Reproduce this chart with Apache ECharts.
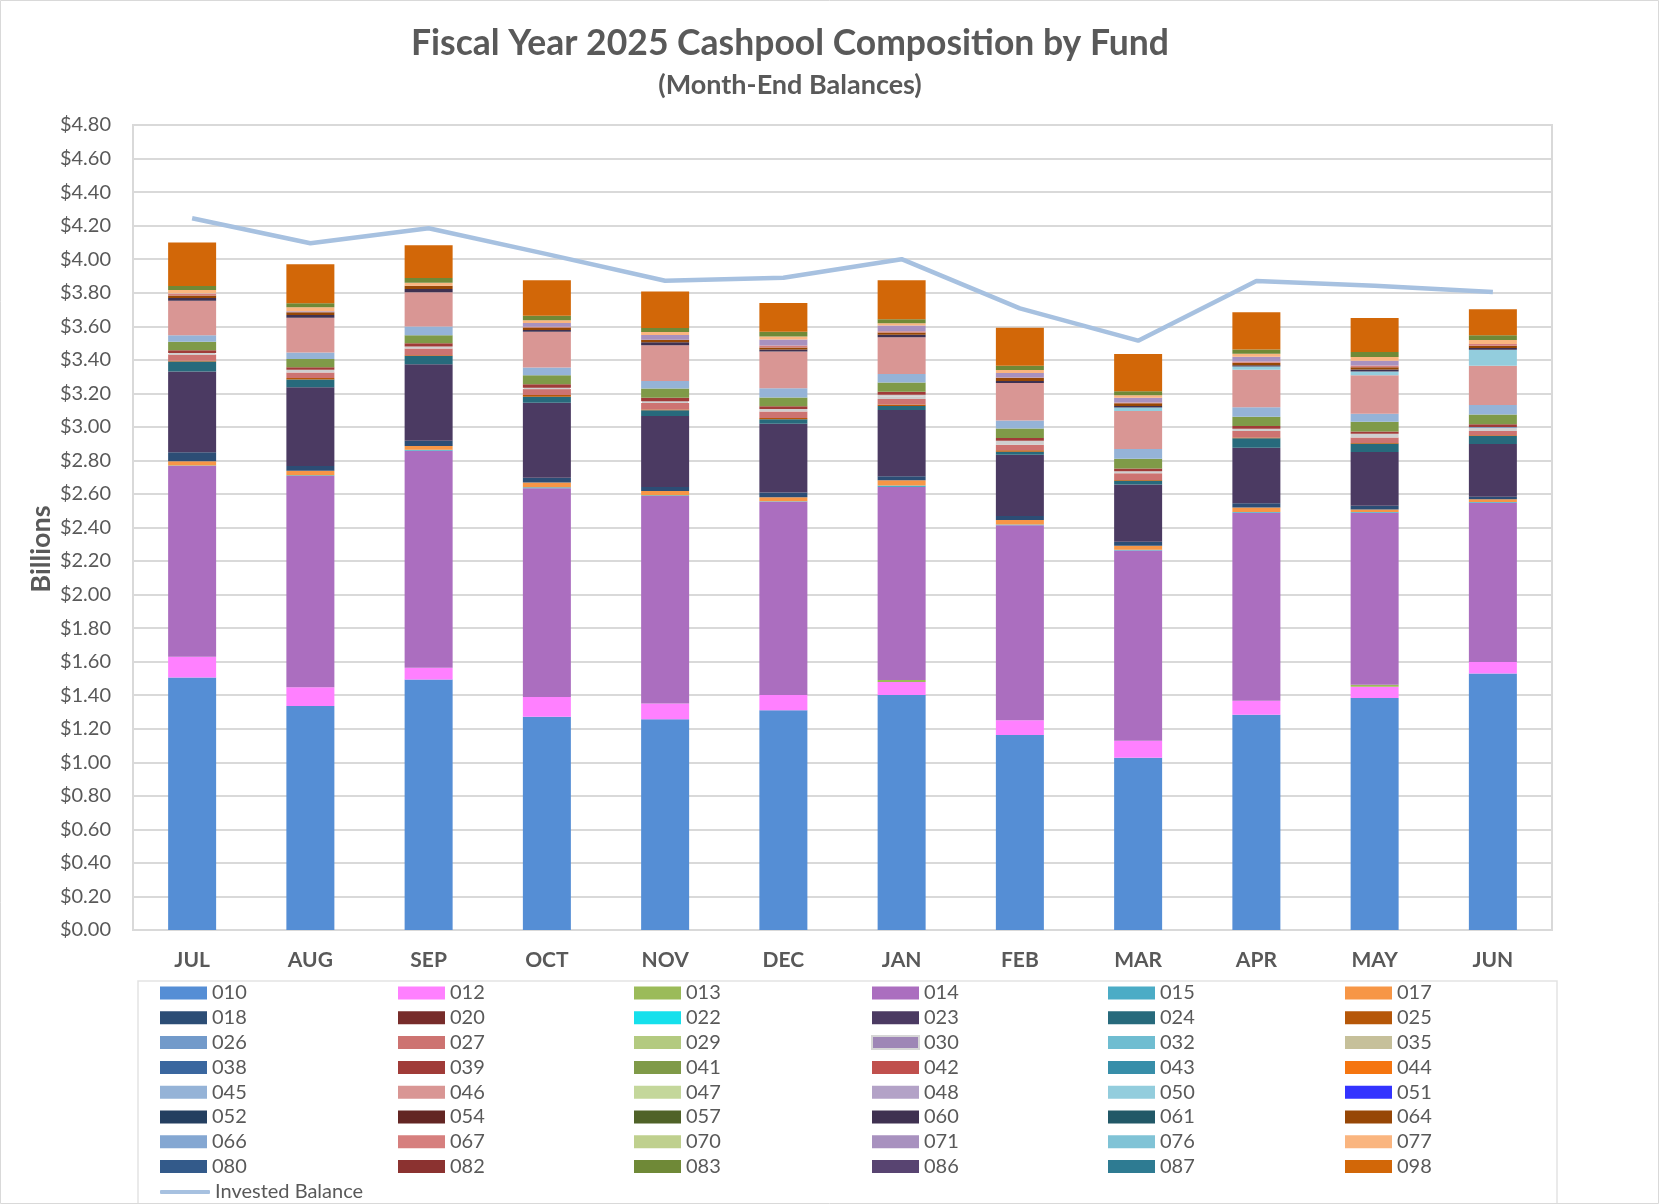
<!DOCTYPE html>
<html>
<head>
<meta charset="utf-8">
<script src="https://cdn.jsdelivr.net/npm/echarts@6/dist/echarts.min.js"></script>
<style>
html,body{margin:0;padding:0;background:#fff;}
#chart{width:1659px;height:1204px;}
</style>
</head>
<body>
<div id="chart"></div>
<script>
// ---- data (billions) ----
const months = ['JUL','AUG','SEP','OCT','NOV','DEC','JAN','FEB','MAR','APR','MAY','JUN'];
const yTicks = [0,0.2,0.4,0.6,0.8,1.0,1.2,1.4,1.6,1.8,2.0,2.2,2.4,2.6,2.8,3.0,3.2,3.4,3.6,3.8,4.0,4.2,4.4,4.6,4.8];

const f010 = [1.505,1.336,1.493,1.272,1.256,1.310,1.401,1.163,1.027,1.284,1.383,1.530];
const f012 = [0.125,0.111,0.071,0.117,0.094,0.091,0.078,0.087,0.102,0.083,0.068,0.068];
const f013 = [0,0,0,0,0,0,0.012,0,0,0,0.012,0];
const f014 = [1.137,1.260,1.294,1.245,1.238,1.152,1.151,1.164,1.134,1.121,1.025,0.950];
const f015 = [0.003,0.004,0.006,0.006,0.004,0.004,0.008,0.004,0.004,0.004,0.004,0.004];
const f017 = [0.025,0.028,0.022,0.028,0.026,0.024,0.032,0.026,0.024,0.028,0.016,0.016];
const f018 = [0.054,0.028,0.032,0.028,0.024,0.028,0.024,0.024,0.024,0.024,0.022,0.016];
const f020 = [0,0,0,0,0,0,0,0,0,0,0,0];
const f022 = [0,0,0,0,0,0,0,0,0,0,0,0];
const f023 = [0.481,0.469,0.455,0.448,0.423,0.410,0.394,0.366,0.342,0.332,0.320,0.314];
const f024 = [0.060,0.046,0.050,0.036,0.034,0.026,0.024,0.018,0.022,0.056,0.050,0.048];
const f025 = [0.004,0.010,0.004,0.010,0.004,0.008,0.010,0.008,0.004,0.004,0.004,0.004];
const f026 = [0,0,0,0,0,0,0,0,0,0,0,0];
const f027 = [0.038,0.032,0.040,0.036,0.040,0.038,0.032,0.034,0.040,0.040,0.032,0.026];
const f029 = [0,0,0,0,0,0,0,0,0,0,0,0];
const f030 = [0.009,0.016,0.012,0.008,0.010,0.016,0.026,0.024,0.013,0.013,0.023,0.020];
const f032 = [0,0,0,0,0,0,0,0,0,0,0,0];
const f035 = [0,0,0,0,0,0,0,0,0,0,0,0];
const f038 = [0,0,0,0,0,0,0,0,0,0,0,0.004];
const f039 = [0.016,0.016,0.020,0.020,0.020,0.016,0.018,0.016,0.016,0.016,0.014,0.016];
const f041 = [0.050,0.048,0.048,0.054,0.056,0.052,0.054,0.056,0.058,0.056,0.058,0.058];
const f042 = [0,0,0,0,0,0,0,0,0,0,0,0];
const f043 = [0,0,0,0,0,0,0,0,0,0,0,0];
const f044 = [0,0,0,0,0,0,0,0,0,0,0,0];
const f045 = [0.040,0.040,0.052,0.046,0.044,0.056,0.052,0.048,0.058,0.056,0.048,0.056];
const f046 = [0.205,0.207,0.203,0.213,0.213,0.219,0.219,0.223,0.227,0.223,0.229,0.235];
const f047 = [0,0,0,0,0,0,0,0,0,0,0,0];
const f048 = [0,0,0,0,0,0,0,0,0,0,0,0];
const f050 = [0,0,0,0,0,0,0,0,0.020,0.020,0.022,0.095];
const f051 = [0,0,0,0,0,0,0,0,0,0,0,0];
const f052 = [0,0,0,0,0,0,0,0,0,0,0,0];
const f054 = [0,0,0,0,0,0,0,0,0,0,0,0];
const f057 = [0,0,0,0,0,0,0,0,0,0,0,0];
const f060 = [0.016,0.016,0.020,0.010,0.018,0.012,0.014,0.012,0.010,0.008,0.012,0.010];
const f061 = [0,0,0,0,0,0,0,0,0,0,0,0];
const f064 = [0.016,0.016,0.020,0.016,0.016,0.012,0.014,0.020,0.016,0.014,0.014,0.014];
const f066 = [0,0,0,0,0,0,0,0,0,0,0,0];
const f067 = [0.008,0,0,0.004,0,0.011,0.007,0.002,0.004,0.008,0.010,0.010];
const f070 = [0,0,0,0,0,0,0,0,0,0,0,0];
const f071 = [0.004,0.006,0,0.023,0.028,0.036,0.034,0.026,0.028,0.028,0.028,0];
const f076 = [0,0,0,0,0,0,0,0,0,0,0,0];
const f077 = [0.020,0.024,0.018,0.016,0.018,0.018,0.014,0.018,0.016,0.018,0.022,0.024];
const f080 = [0,0,0,0,0,0,0,0,0,0,0,0];
const f082 = [0,0,0,0,0,0,0,0,0,0,0,0];
const f083 = [0.024,0.024,0.028,0.026,0.024,0.028,0.024,0.026,0.024,0.026,0.030,0.028];
const f086 = [0,0,0,0,0,0,0,0,0,0,0,0];
const f087 = [0,0,0,0,0,0,0,0,0,0,0,0];
const f098 = [0.259,0.232,0.195,0.213,0.217,0.171,0.233,0.226,0.221,0.221,0.203,0.155];

const investedBalance = [4.244,4.095,4.184,4.030,3.871,3.889,4.000,3.707,3.514,3.870,3.842,3.804];

const fundCodes = ['010','012','013','014','015','017','018','020','022','023','024','025',
  '026','027','029','030','032','035','038','039','041','042','043','044',
  '045','046','047','048','050','051','052','054','057','060','061','064',
  '066','067','070','071','076','077','080','082','083','086','087','098'];
const fundValues = [f010,f012,f013,f014,f015,f017,f018,f020,f022,f023,f024,f025,
  f026,f027,f029,f030,f032,f035,f038,f039,f041,f042,f043,f044,
  f045,f046,f047,f048,f050,f051,f052,f054,f057,f060,f061,f064,
  f066,f067,f070,f071,f076,f077,f080,f082,f083,f086,f087,f098];

// ---- styles ----
const fundColors = ['#558ed5','#ff80ff','#9bbb59','#ab6ebf','#4bacc6','#f79646',
  '#2c4d75','#772c2a','#15e0ec','#4b3a62','#276a7c','#b65708',
  '#729aca','#cd7371','#b3ca80','#9e86b6','#6fbdd1','#c6c09a',
  '#3a679f','#a03b38','#7f9a48','#c0504d','#378ea9','#f57510',
  '#95b3d7','#d99694','#c4d79b','#b3a2c7','#93cddd','#3333ff',
  '#243f60','#632523','#4f6228','#3f3151','#215867','#974706',
  '#84a7d2','#d67f7e','#bfd08e','#a891bf','#80c3d6','#fab57f',
  '#335a8a','#8b3230','#6f8937','#584471','#2e7b92','#d26708'];

const FONT = 'Lato, "Open Sans", sans-serif';
const TXT = '#595959';

const chart = echarts.init(document.getElementById('chart'), null, {renderer:'canvas'});

const series = fundCodes.map((code, i) => {
  const s = {
    name: code,
    type: 'bar',
    stack: 'funds',
    barWidth: 48,
    data: fundValues[i],
    itemStyle: {color: fundColors[i]},
    emphasis: {disabled: true}
  };
  if (code === '030') {
    s.itemStyle = {color: '#f4f4f4', borderColor: '#cfcfcf', borderWidth: 2};
  }
  return s;
});
series.push({
  name: 'Invested Balance',
  type: 'line',
  data: investedBalance,
  symbol: 'none',
  lineStyle: {color: '#a7c1e0', width: 4.5},
  itemStyle: {color: '#a7c1e0'},
  z: 5,
  emphasis: {disabled: true}
});

const colLefts = [155, 393, 629, 866, 1103, 1340];
const legends = colLefts.map((left, j) => ({
  orient: 'vertical',
  left: left,
  top: 978,
  itemWidth: 47,
  itemHeight: 13,
  itemGap: 4.8,
  icon: 'rect',
  selectedMode: false,
  textStyle: {fontFamily: FONT, fontSize: 20, color: TXT, lineHeight: 20},
  data: fundCodes.filter((c, i) => i % 6 === j).map(c => {
    if (c === '030') return {name: c, itemStyle: {color: '#9e86b6', borderColor: '#d6d6d6', borderWidth: 2}};
    return {name: c};
  })
}));
legends.push({
  orient: 'vertical',
  left: 155,
  top: 1177,
  itemWidth: 50,
  itemHeight: 4,
  icon: 'roundRect',
  selectedMode: false,
  textStyle: {fontFamily: FONT, fontSize: 20, color: TXT, lineHeight: 20},
  data: ['Invested Balance']
});

const option = {
  animation: false,
  backgroundColor: '#ffffff',
  grid: {left: 133, right: 107, top: 125, bottom: 274, show: true, borderColor: '#d9d9d9', borderWidth: 2},
  legend: legends,
  xAxis: {
    type: 'category',
    data: months,
    axisLine: {lineStyle: {color: '#d9d9d9', width: 2}},
    axisTick: {show: false},
    axisLabel: {fontFamily: FONT, fontSize: 21, fontWeight: 'bold', color: TXT, margin: 20}
  },
  yAxis: {
    type: 'value',
    min: yTicks[0],
    max: yTicks[yTicks.length - 1],
    interval: 0.2,
    axisLine: {show: true, lineStyle: {color: '#d9d9d9', width: 2}},
    axisTick: {show: false},
    splitLine: {lineStyle: {color: '#d9d9d9', width: 2}},
    axisLabel: {fontFamily: FONT, fontSize: 20, color: TXT, margin: 22,
      formatter: v => '$' + v.toFixed(2)}
  },
  graphic: [
    {type: 'rect', silent: true, shape: {x: 0.5, y: 0.5, width: 1658, height: 1203},
      style: {fill: 'none', stroke: '#d9d9d9', lineWidth: 1}},
    {type: 'rect', silent: true, z: -1, shape: {x: 138, y: 981, width: 1419, height: 260},
      style: {fill: 'none', stroke: '#e3e3e3', lineWidth: 1.5}},
    {type: 'text', silent: true, x: 790, y: 44,
      style: {text: 'Fiscal Year 2025 Cashpool Composition by Fund', font: 'bold 35.5px ' + FONT,
        fill: TXT, textAlign: 'center', textVerticalAlign: 'middle'}},
    {type: 'text', silent: true, x: 790, y: 85,
      style: {text: '(Month-End Balances)', font: 'bold 27px ' + FONT,
        fill: TXT, textAlign: 'center', textVerticalAlign: 'middle'}},
    {type: 'text', silent: true, x: 41, y: 549, rotation: Math.PI / 2,
      style: {text: 'Billions', font: 'bold 27px ' + FONT,
        fill: TXT, textAlign: 'center', textVerticalAlign: 'middle'}}
  ],
  series: series
};
chart.setOption(option);
</script>
</body>
</html>
